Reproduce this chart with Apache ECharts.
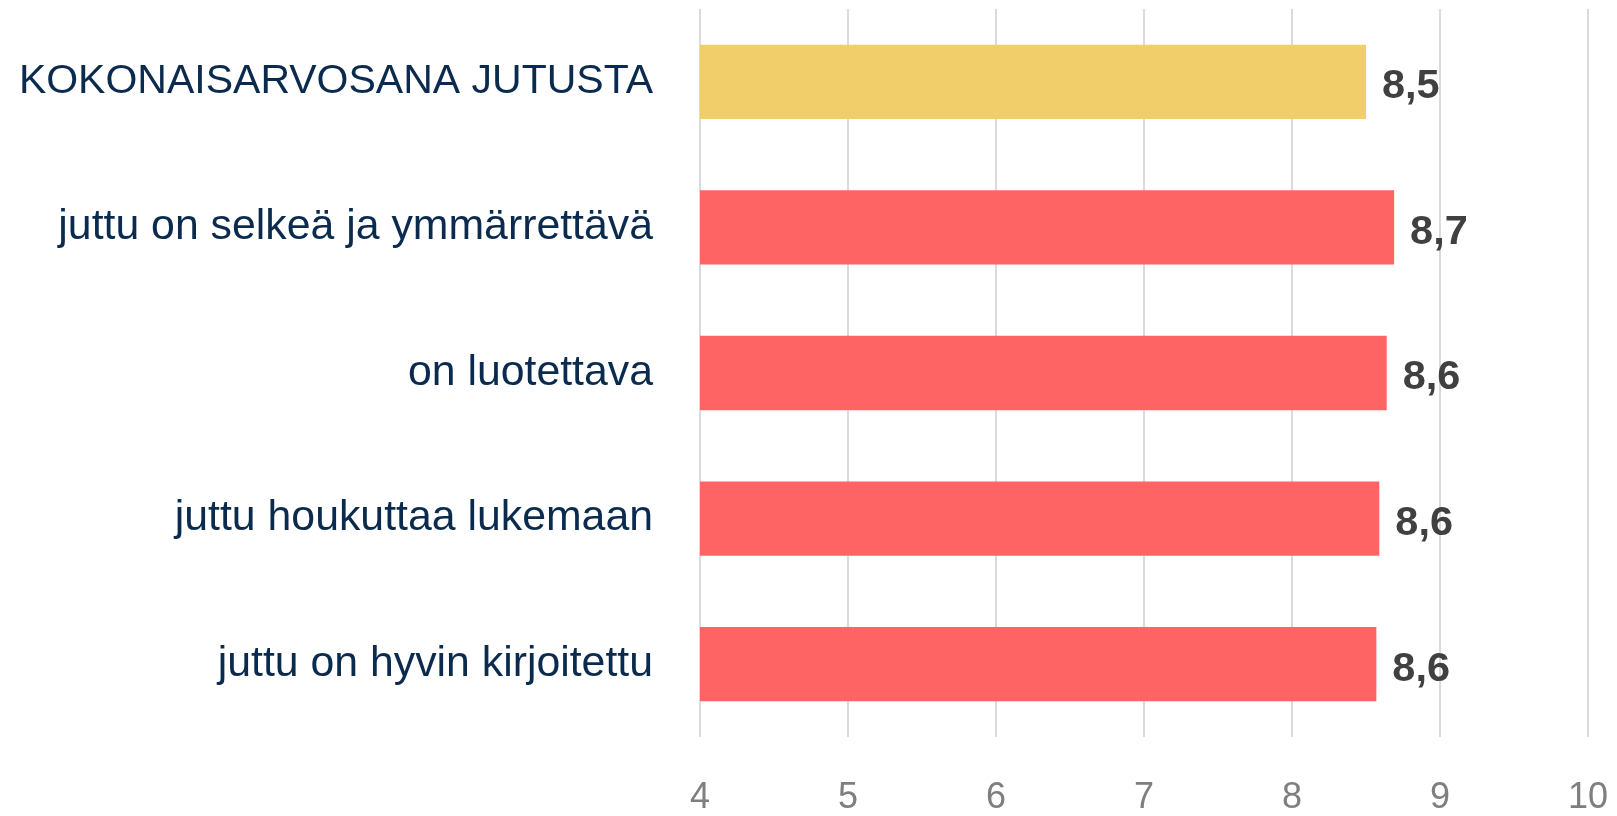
<!DOCTYPE html>
<html>
<head>
<meta charset="utf-8">
<script src="https://cdn.jsdelivr.net/npm/echarts@6/dist/echarts.min.js"></script>
<style>
  html, body { margin: 0; padding: 0; background: #ffffff; }
  #chart { width: 1617px; height: 816px; }
</style>
</head>
<body>
<div id="chart"></div>
<script>
// Arvosanat väittämittäin (asteikko 4–10)
const categories = [
  'KOKONAISARVOSANA JUTUSTA',
  'juttu on selkeä ja ymmärrettävä',
  'on luotettava',
  'juttu houkuttaa lukemaan',
  'juttu on hyvin kirjoitettu'
];
const scores = [8.5, 8.69, 8.64, 8.59, 8.57];
const barColors = ['#F2CE6A', '#FF6464', '#FF6464', '#FF6464', '#FF6464'];
const axisMin = 4;
const axisMax = 10;
const axisStep = 1;

const chart = echarts.init(document.getElementById('chart'), null, { renderer: 'canvas' });

chart.setOption({
  animation: false,
  backgroundColor: '#ffffff',
  grid: { left: 700, right: 29, top: 9, bottom: 73, containLabel: false },
  xAxis: {
    type: 'value',
    min: axisMin,
    max: axisMax,
    interval: axisStep,
    axisLine: { show: false },
    axisTick: { show: false },
    splitLine: { show: true, lineStyle: { color: '#dadada', width: 2 } },
    axisLabel: {
      margin: 43,
      color: '#7f7f7f',
      fontSize: 36,
      fontFamily: 'Liberation Sans, Arial, sans-serif'
    }
  },
  yAxis: {
    type: 'category',
    data: categories,
    inverse: true,
    axisLine: { show: false },
    axisTick: { show: false },
    splitLine: { show: false },
    axisLabel: {
      margin: 47,
      color: '#0b2b4e',
      fontSize: 42.8,
      fontFamily: 'Liberation Sans, Arial, sans-serif',
      formatter: function (v, i) {
        return i === 0 ? '{caps|' + v + '}' : v;
      },
      rich: {
        caps: {
          color: '#0b2b4e',
          fontSize: 41,
          fontFamily: 'Liberation Sans, Arial, sans-serif'
        }
      }
    }
  },
  series: [{
    type: 'bar',
    barWidth: '51%',
    data: scores.map(function (v, i) {
      return { value: v, itemStyle: { color: barColors[i] } };
    }),
    label: {
      show: true,
      position: 'right',
      distance: 16,
      color: '#404040',
      fontSize: 41.5,
      fontWeight: 'bold',
      fontFamily: 'Liberation Sans, Arial, sans-serif',
      offset: [0, 5],
      formatter: function (p) {
        return p.value.toFixed(1).replace('.', ',');
      }
    }
  }]
});
</script>
</body>
</html>
